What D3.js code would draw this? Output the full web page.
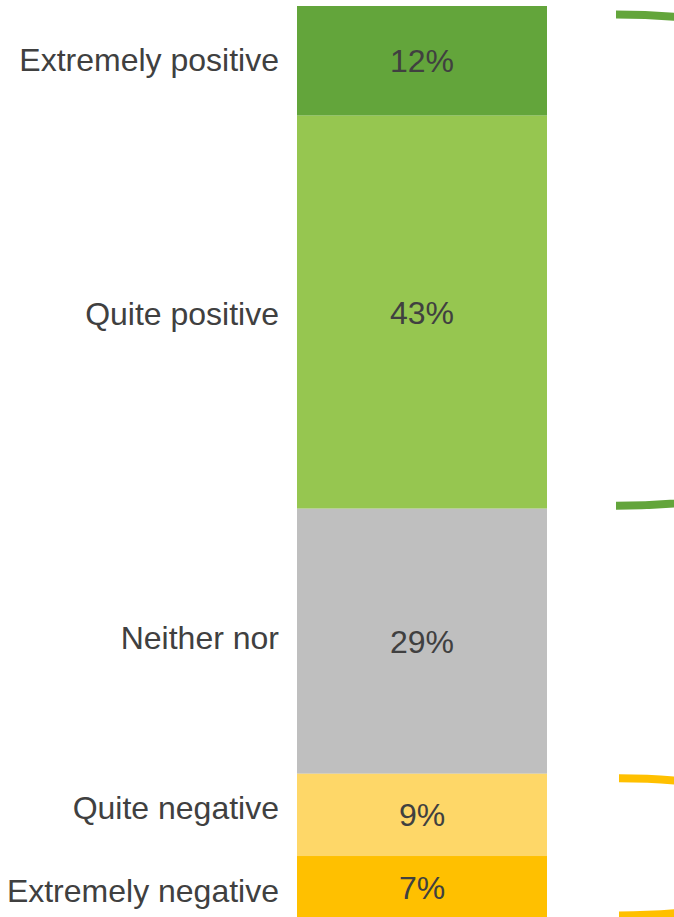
<!DOCTYPE html>
<html>
<head>
<meta charset="utf-8">
<script src="https://cdn.jsdelivr.net/npm/d3@7/dist/d3.min.js"></script>
<style>
  html, body { margin: 0; padding: 0; background: #ffffff; overflow: hidden; }
  svg { display: block; }
</style>
</head>
<body>
<svg id="chart" width="674" height="917"></svg>
<script>
// Sentiment categories, top to bottom, with their share of respondents (%)
const categories = ["Extremely positive", "Quite positive", "Neither nor", "Quite negative", "Extremely negative"];
const shares = [12, 43, 29, 9, 7];
const colors = ["#63a53b", "#96c650", "#bfbfbf", "#fed768", "#ffc000"];

// Brackets grouping the positive and the negative answers
const bracketGroups = [
  { first: 0, last: 1, color: "#63a53b" },
  { first: 3, last: 4, color: "#ffc000" }
];

const W = 674, H = 917;
const svg = d3.select("#chart");
const fontFamily = "'Liberation Sans', Arial, sans-serif";
const textColor = "#404040";

// Cumulative stacking from the top of the bar
let acc = 0;
const segments = categories.map((c, i) => {
  const s = { category: c, value: shares[i], y0: acc, y1: acc + shares[i], color: colors[i] };
  acc += shares[i];
  return s;
});

const y = d3.scaleLinear().domain([0, 100]).range([6, 920]);
const x = d3.scaleBand().domain(["all"]).range([297, 547]).padding(0);

// Stacked bar
svg.append("g")
  .selectAll("rect")
  .data(segments)
  .join("rect")
  .attr("x", x("all"))
  .attr("width", x.bandwidth())
  .attr("y", d => y(d.y0))
  .attr("height", d => y(d.y1) - y(d.y0))
  .attr("fill", d => d.color);

// Value labels in each segment
const fontSize = 32;
const capShift = fontSize * 0.716 / 2;
svg.append("g")
  .selectAll("text")
  .data(segments)
  .join("text")
  .attr("x", x("all") + x.bandwidth() / 2)
  .attr("y", d => (y(d.y0) + y(d.y1)) / 2 + capShift)
  .attr("text-anchor", "middle")
  .attr("font-family", fontFamily)
  .attr("font-size", fontSize)
  .attr("fill", textColor)
  .text(d => d.value + "%");

// Category labels to the left of the bar (small nudges keep the lower pair evenly spaced)
const labelNudge = [-1, 1.5, -4, -7, 2.5];
svg.append("g")
  .selectAll("text")
  .data(segments)
  .join("text")
  .attr("x", 279)
  .attr("y", (d, i) => (y(d.y0) + y(d.y1)) / 2 + capShift + labelNudge[i])
  .attr("text-anchor", "end")
  .attr("font-family", fontFamily)
  .attr("font-size", fontSize)
  .attr("fill", textColor)
  .text(d => d.category);

// Curved brackets to the right of the bar
const bracketX = [616, 619];
const bracketInset = [[8.5, 3], [4.5, 4.5]];
const bracketRx = [430, 215];
bracketGroups.forEach((g, i) => {
  const top = y(segments[g.first].y0) + bracketInset[i][0];
  const bot = y(segments[g.last].y1) - bracketInset[i][1];
  const ry = (bot - top) / 2;
  svg.append("path")
    .attr("d", `M${bracketX[i]},${top} A${bracketRx[i]},${ry} 0 0 1 ${bracketX[i]},${bot}`)
    .attr("fill", "none")
    .attr("stroke", g.color)
    .attr("stroke-width", 8);
});
</script>
</body>
</html>
